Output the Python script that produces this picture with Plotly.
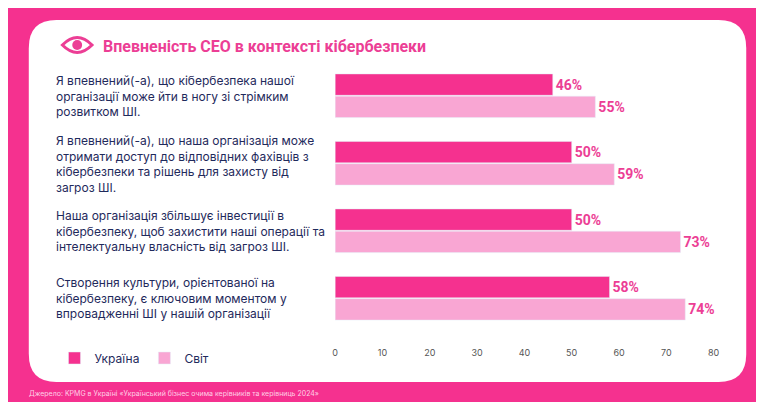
import plotly.graph_objects as go

categories = [
    "Я впевнений(-а), що кібербезпека нашої<br>організації може йти в ногу зі стрімким<br>розвитком ШІ.",
    "Я впевнений(-а), що наша організація може<br>отримати доступ до відповідних фахівців з<br>кібербезпеки та рішень для захисту від<br>загроз ШІ.",
    "Наша організація збільшує інвестиції в<br>кібербезпеку, щоб захистити наші операції та<br>інтелектуальну власність від загроз ШІ.",
    "Створення культури, орієнтованої на<br>кібербезпеку, є ключовим моментом у<br>впровадженні ШІ у нашій організації",
]
keys = ["c1", "c2", "c3", "c4"]
ukraine = [46, 50, 50, 58]
world = [55, 59, 73, 74]
ticks = [0, 10, 20, 30, 40, 50, 60, 70, 80]

PINK = "#F5318F"
LIGHT = "#F9A6D3"
W, H = 764, 402
OFF = 8  # page body margin
fig = go.Figure()
lblfont = dict(family="Liberation Sans Narrow, Roboto, sans-serif", size=14, color="#EC3E95")
fig.add_bar(y=keys, x=ukraine, orientation="h", name="Україна", marker_color=PINK,
            text=[f"<b>{v}%</b>" for v in ukraine], textposition="outside", textfont=lblfont, cliponaxis=False)
fig.add_bar(y=keys, x=world, orientation="h", name="Світ", marker_color=LIGHT,
            text=[f"<b>{v}%</b>" for v in world], textposition="outside", textfont=lblfont, cliponaxis=False)

def fx(px): return (px - OFF) / W
def fy(py): return 1 - (py - OFF) / H

x0, x1, y0, y1, r = 26, 752, 20, 382, 28
path = (f"M {fx(x0+r)},{fy(y0)} L {fx(x1-r)},{fy(y0)} Q {fx(x1)},{fy(y0)} {fx(x1)},{fy(y0+r)} "
        f"L {fx(x1)},{fy(y1-r)} Q {fx(x1)},{fy(y1)} {fx(x1-r)},{fy(y1)} L {fx(x0+r)},{fy(y1)} "
        f"Q {fx(x0)},{fy(y1)} {fx(x0)},{fy(y1-r)} L {fx(x0)},{fy(y0+r)} Q {fx(x0)},{fy(y0)} {fx(x0+r)},{fy(y0)} Z")
fig.add_shape(type="path", path=path, xref="paper", yref="paper", fillcolor="white", line_width=0, layer="below")
# eye icon
fig.add_shape(type="path", xref="paper", yref="paper", line=dict(color="#EC3E95", width=3),
              path=(f"M {fx(60)},{fy(45)} Q {fx(75)},{fy(30)} {fx(90)},{fy(45)} "
                    f"Q {fx(75)},{fy(60)} {fx(60)},{fy(45)} Z"))
fig.add_shape(type="circle", xref="paper", yref="paper", fillcolor="#EC3E95", line_width=0,
              x0=fx(70), x1=fx(80), y0=fy(50), y1=fy(40))

ann = []
centers = [96, 164, 231, 298]
for c, t in zip(centers, categories):
    ann.append(dict(x=fx(52), y=fy(c), xref="paper", yref="paper", text=t, showarrow=False,
                    xanchor="left", yanchor="middle", align="left",
                    font=dict(family="Inter, Roboto, sans-serif", size=12, color="#1F2A5C")))
ann.append(dict(x=fx(99), y=fy(46), xref="paper", yref="paper", text="<b>Впевненість CEO в контексті кібербезпеки</b>",
                showarrow=False, xanchor="left", yanchor="middle",
                font=dict(family="Roboto, sans-serif", size=16, color="#EC3E95")))
ann.append(dict(x=fx(24), y=fy(393), xref="paper", yref="paper",
                text="Джерело: KPMG в Україні «Український бізнес очима керівників та керівниць 2024»",
                showarrow=False, xanchor="left", yanchor="middle",
                font=dict(family="Inter, sans-serif", size=7, color="#FFD0E6")))

fig.update_layout(
    width=W, height=H, margin=dict(l=0, r=0, t=0, b=0),
    paper_bgcolor=PINK, plot_bgcolor="white",
    barmode="group", bargap=0.34, bargroupgap=0.04,
    xaxis=dict(domain=[fx(336), fx(719)], range=[0, 80], tickvals=ticks, showgrid=False,
               zeroline=False, showline=False, ticks="", ticklabelstandoff=14,
               tickfont=dict(family="Inter, sans-serif", size=9, color="#555")),
    yaxis=dict(domain=[fy(332), fy(62)], autorange="reversed", showticklabels=False,
               showgrid=False, zeroline=False),
    legend=dict(orientation="h", x=fx(52), y=fy(358), yanchor="middle", xanchor="left",
                bgcolor="rgba(0,0,0,0)", traceorder="normal",
                font=dict(family="Inter, sans-serif", size=12, color="#1F2A5C")),
    annotations=ann, showlegend=True,
)
fig.write_html("out.html")
